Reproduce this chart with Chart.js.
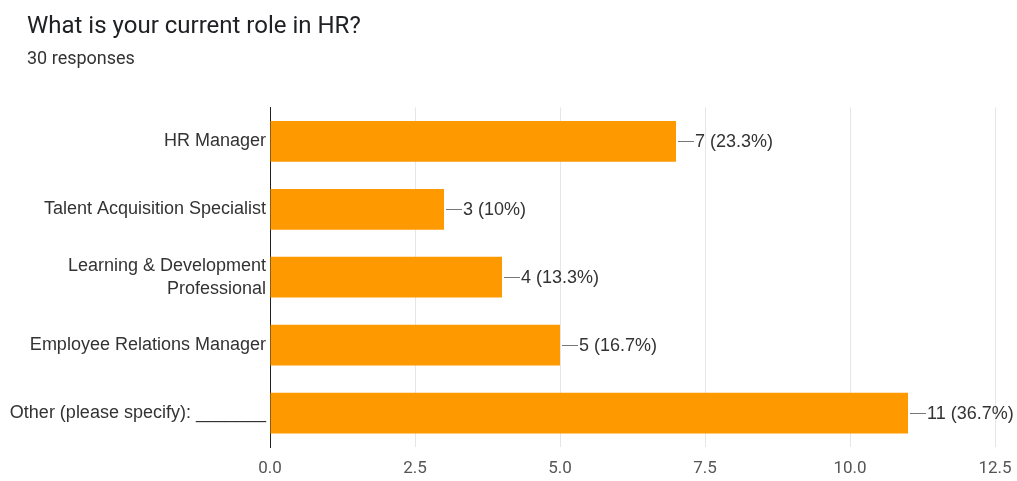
<!DOCTYPE html>
<html>
<head>
<meta charset="utf-8">
<script src="https://cdn.jsdelivr.net/npm/chart.js@4/dist/chart.umd.min.js"></script>
<style>
  html, body { margin: 0; padding: 0; background: #ffffff; }
  #wrap { width: 1017px; height: 481px; position: relative; }
</style>
</head>
<body>
<div id="wrap"><canvas id="c" width="1017" height="481"></canvas></div>
<script>
// Survey question, response count and answers
const questionTitle = 'What is your current role in HR?';
const responseNote = '30 responses';
const roles = [
  'HR Manager',
  'Talent Acquisition Specialist',
  ['Learning & Development', 'Professional'],
  'Employee Relations Manager',
  'Other (please specify): _______'
];
const counts = [7, 3, 4, 5, 11];
const percents = ['23.3%', '10%', '13.3%', '16.7%', '36.7%'];
const xTicks = [0, 2.5, 5, 7.5, 10, 12.5];

// Value labels with a short leader line at the end of each bar
const barLabels = {
  id: 'barLabels',
  afterDatasetsDraw(chart) {
    const ctx = chart.ctx;
    const meta = chart.getDatasetMeta(0);
    ctx.save();
    ctx.font = '18px "Liberation Sans", Arial, sans-serif';
    ctx.fillStyle = '#333333';
    ctx.textBaseline = 'middle';
    ctx.strokeStyle = '#777777';
    ctx.lineWidth = 1;
    meta.data.forEach((bar, i) => {
      const x = bar.x, y = Math.round(bar.y);
      ctx.beginPath();
      ctx.moveTo(x + 2, y + 0.5);
      ctx.lineTo(x + 18, y + 0.5);
      ctx.stroke();
      ctx.fillText(counts[i] + ' (' + percents[i] + ')', x + 19, y + 1);
    });
    ctx.restore();
  }
};

// Indent the heading blocks while the category axis keeps the full left margin
const headingIndent = {
  id: 'headingIndent',
  afterLayout(chart) {
    chart.boxes.forEach(b => {
      if (!b.axis && b.position === 'top') {
        b.left += 27;
      }
    });
  }
};

new Chart(document.getElementById('c'), {
  type: 'bar',
  data: {
    labels: roles,
    datasets: [{
      data: counts,
      backgroundColor: '#ff9900',
      borderWidth: 0,
      barPercentage: 0.6,
      categoryPercentage: 1.0
    }]
  },
  options: {
    indexAxis: 'y',
    responsive: false,
    animation: false,
    layout: { padding: { left: 0, right: 22, top: 0, bottom: 0 } },
    plugins: {
      legend: { display: false },
      tooltip: { enabled: false },
      title: {
        display: true,
        text: questionTitle,
        align: 'start',
        color: '#202124',
        font: { family: 'Roboto, sans-serif', size: 24, weight: 'normal' },
        padding: { top: 13, bottom: 7 }
      },
      subtitle: {
        display: true,
        text: responseNote,
        align: 'start',
        color: '#333333',
        font: { family: 'Roboto, sans-serif', size: 18, weight: 'normal' },
        padding: { top: 0, bottom: 37 }
      }
    },
    scales: {
      x: {
        type: 'linear',
        min: 0,
        max: 12.5,
        afterBuildTicks(scale) { scale.ticks = xTicks.map(v => ({ value: v })); },
        afterFit(scale) {
          scale.height = 34;
          scale.paddingLeft = 0;
          scale.paddingRight = 0;
        },
        ticks: {
          callback: v => Number(v).toFixed(1),
          color: '#555555',
          font: { family: 'Roboto, sans-serif', size: 17 },
          padding: 12
        },
        grid: { color: '#e6e6e6', drawTicks: false },
        border: { display: false }
      },
      y: {
        afterFit(scale) { scale.width = 270; },
        ticks: {
          color: '#333333',
          font: { family: '"Liberation Sans", Arial, sans-serif', size: 18, lineHeight: 1.28 },
          padding: 4
        },
        grid: { display: false, drawTicks: false },
        border: { display: true, color: '#222222', width: 1 }
      }
    }
  },
  plugins: [barLabels, headingIndent]
});
</script>
</body>
</html>
